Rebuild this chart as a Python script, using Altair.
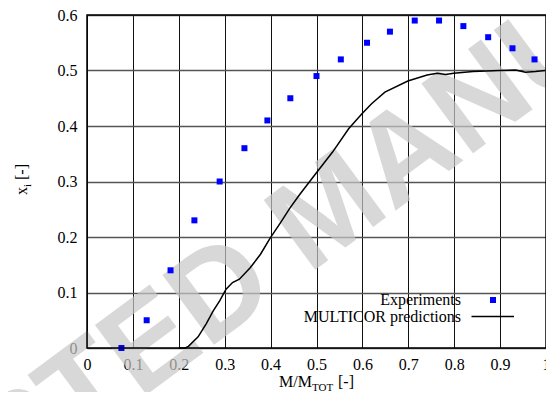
import altair as alt
import pandas as pd

# ---- data ----
exp_x = [0.075, 0.130, 0.182, 0.234, 0.289, 0.343, 0.393, 0.443, 0.500, 0.553,
         0.610, 0.660, 0.714, 0.767, 0.820, 0.874, 0.927, 0.975]
exp_y = [0.00, 0.05, 0.14, 0.23, 0.30, 0.36, 0.41, 0.45, 0.49, 0.52,
         0.55, 0.57, 0.59, 0.59, 0.58, 0.56, 0.54, 0.52]

pred_x = [0.200, 0.214, 0.221, 0.242, 0.260, 0.275, 0.289, 0.303, 0.317, 0.332,
          0.356, 0.378, 0.399, 0.421, 0.442, 0.463, 0.499, 0.535, 0.570, 0.599,
          0.620, 0.649, 0.699, 0.741, 0.763, 0.781, 0.799, 0.841, 0.898, 0.934,
          0.955, 0.977, 0.998]
pred_y = [0.000, 0.000, 0.003, 0.020, 0.044, 0.067, 0.085, 0.106, 0.118, 0.124,
          0.145, 0.169, 0.198, 0.225, 0.252, 0.276, 0.315, 0.353, 0.395, 0.422,
          0.440, 0.461, 0.481, 0.492, 0.495, 0.493, 0.495, 0.498, 0.500, 0.501,
          0.497, 0.498, 0.500]

x_ticks = [0, 0.1, 0.2, 0.3, 0.4, 0.5, 0.6, 0.7, 0.8, 0.9, 1.0]
y_ticks = [0, 0.1, 0.2, 0.3, 0.4, 0.5, 0.6]

legend_labels = ["Experiments", "MULTICOR predictions"]
x_title = ["M/M", "TOT", "[-]"]
y_title = ["x", "i", "[-]"]
watermark = ["ACCEPTED MANUSCRIPT"]

W, H = 459, 333
SERIF = "Liberation Serif, Times New Roman, Times, serif"

exp_df = pd.DataFrame({"x": exp_x, "y": exp_y})
pred_df = pd.DataFrame({"x": pred_x, "y": pred_y})
one = pd.DataFrame({"k": [0]})

xscale = alt.Scale(domain=[0, 1], nice=False, zero=False)
yscale = alt.Scale(domain=[0, 0.6], nice=False, zero=False)

xaxis = alt.Axis(values=x_ticks, format="~g", grid=True, gridColor="#111111",
                 gridWidth=1, ticks=False, domain=False, labelFont=SERIF,
                 labelFontSize=16, labelColor="black", labelPadding=8,
                 labelFlush=False, labelOverlap=False, labelBound=False, title=None)
yaxis = alt.Axis(values=y_ticks, format="~g", grid=True, gridColor="#555555",
                 gridWidth=1.3, ticks=False, domain=False, labelFont=SERIF,
                 labelFontSize=16, labelColor="black", labelPadding=10,
                 labelFlush=False, labelOverlap=False, title=None)

base_axes = alt.Chart(exp_df).mark_point(opacity=0).encode(
    x=alt.X("x:Q", scale=xscale, axis=xaxis),
    y=alt.Y("y:Q", scale=yscale, axis=yaxis),
)

wm = alt.Chart(pd.DataFrame({"t": watermark})).mark_text(
    font="Liberation Sans", fontSize=126, fontWeight="bold", angle=323.5,
    align="center", baseline="middle", color="#c8c8c8", opacity=0.7
).encode(text="t:N", x=alt.value(244), y=alt.value(196))

line = alt.Chart(pred_df).mark_line(color="black", strokeWidth=1.5).encode(
    x=alt.X("x:Q", scale=xscale), y=alt.Y("y:Q", scale=yscale)
)
pts = alt.Chart(exp_df).mark_point(shape="square", filled=True, color="#0000ff",
                                   size=36, opacity=1).encode(
    x=alt.X("x:Q", scale=xscale), y=alt.Y("y:Q", scale=yscale)
)

border = alt.Chart(one).mark_rect(fill=None, stroke="black", strokeWidth=1.5).encode(
    x=alt.value(0), x2=alt.value(W), y=alt.value(0), y2=alt.value(H)
)

leg_txt = alt.Chart(pd.DataFrame({"t": legend_labels, "yy": [285, 301.5]})).mark_text(
    font=SERIF, fontSize=16, align="right", baseline="middle", color="black"
).encode(text="t:N", x=alt.value(374), y=alt.Y("yy:Q", scale=None))
leg_pt = alt.Chart(one).mark_point(shape="square", filled=True, color="#0000ff",
                                   size=36, opacity=1).encode(
    x=alt.value(406), y=alt.value(285))
leg_line = alt.Chart(one).mark_rule(color="black", strokeWidth=1.5).encode(
    x=alt.value(384.5), x2=alt.value(427), y=alt.value(301.5))

# axis titles with subscripts
xt_main = alt.Chart(pd.DataFrame({"t": [x_title[0]]})).mark_text(
    font=SERIF, fontSize=16, align="left", baseline="alphabetic", color="black"
).encode(text="t:N", x=alt.value(192), y=alt.value(372))
xt_sub = alt.Chart(pd.DataFrame({"t": [x_title[1]]})).mark_text(
    font=SERIF, fontSize=11, align="left", baseline="alphabetic", color="black"
).encode(text="t:N", x=alt.value(225), y=alt.value(376))
xt_end = alt.Chart(pd.DataFrame({"t": [x_title[2]]})).mark_text(
    font=SERIF, fontSize=16, align="left", baseline="alphabetic", color="black"
).encode(text="t:N", x=alt.value(251), y=alt.value(372))

yt_main = alt.Chart(pd.DataFrame({"t": [y_title[0]]})).mark_text(
    font=SERIF, fontSize=16, align="left", baseline="alphabetic", color="black", angle=270
).encode(text="t:N", x=alt.value(-60), y=alt.value(180))
yt_sub = alt.Chart(pd.DataFrame({"t": [y_title[1]]})).mark_text(
    font=SERIF, fontSize=11, align="left", baseline="alphabetic", color="black", angle=270
).encode(text="t:N", x=alt.value(-56), y=alt.value(172))
yt_end = alt.Chart(pd.DataFrame({"t": [y_title[2]]})).mark_text(
    font=SERIF, fontSize=16, align="left", baseline="alphabetic", color="black", angle=270
).encode(text="t:N", x=alt.value(-60), y=alt.value(165))

chart = alt.layer(
    base_axes, wm, line, pts, border, leg_txt, leg_pt, leg_line,
    xt_main, xt_sub, xt_end, yt_main, yt_sub, yt_end
).properties(
    width=W, height=H,
    padding={"left": 79, "top": 7, "right": 0, "bottom": 44},
    autosize=alt.AutoSizeParams(type="none"),
).configure_view(stroke=None).configure(background="white")

chart.save("out.html", embed_options={"renderer": "svg", "actions": False})
